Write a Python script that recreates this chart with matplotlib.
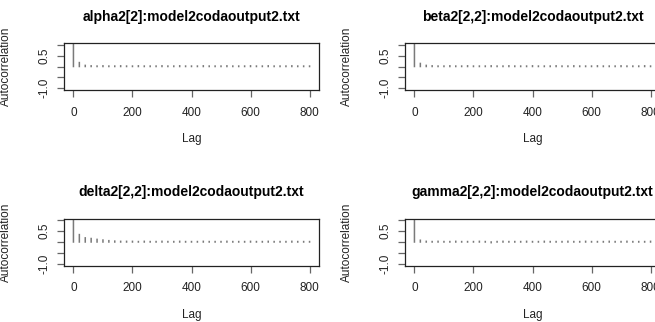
import matplotlib
matplotlib.use("Agg")
import matplotlib.pyplot as plt

plt.rcParams['font.family'] = ['Liberation Sans', 'DejaVu Sans']

# lags 0..800 by 20
lags = list(range(0, 801, 20))

titles = ["alpha2[2]:model2codaoutput2.txt",
          "beta2[2,2]:model2codaoutput2.txt",
          "delta2[2,2]:model2codaoutput2.txt",
          "gamma2[2,2]:model2codaoutput2.txt"]

alpha_acf = [1.0, 0.18, 0.05, 0.03, 0.02, 0.03, 0.02, 0.02, 0.03, 0.02, 0.02,
             0.03, 0.02, 0.02, 0.02, 0.03, 0.02, 0.02, 0.03, 0.02, 0.02,
             0.02, 0.03, 0.02, 0.02, 0.02, 0.03, 0.02, 0.02, 0.02, 0.03,
             0.02, 0.02, 0.03, 0.02, 0.02, 0.02, 0.03, 0.02, 0.02, 0.02]
beta_acf = [1.0, 0.14, 0.05, 0.03, 0.02, 0.02, 0.03, 0.02, 0.02, 0.03, 0.02,
            0.02, 0.02, 0.03, 0.02, 0.02, 0.03, 0.02, 0.02, 0.02, 0.03,
            0.02, 0.02, 0.02, 0.03, 0.02, 0.02, 0.03, 0.02, 0.02, 0.02,
            0.03, 0.02, 0.02, 0.02, 0.03, 0.02, 0.02, 0.02, 0.03, 0.02]
delta_acf = [1.0, 0.34, 0.19, 0.16, 0.12, 0.09, 0.06, 0.04, 0.03, 0.03, 0.03,
             0.02, 0.03, 0.02, 0.02, 0.03, 0.02, 0.02, 0.03, 0.02, 0.02,
             0.02, 0.03, 0.02, 0.02, 0.02, 0.03, 0.02, 0.02, 0.02, 0.03,
             0.02, 0.02, 0.03, 0.02, 0.02, 0.02, 0.03, 0.02, 0.02, 0.02]
gamma_acf = [1.0, 0.08, 0.03, 0.02, 0.03, 0.02, 0.02, 0.03, 0.02, 0.02, 0.02,
             0.03, 0.02, -0.03, 0.02, 0.03, 0.02, 0.02, 0.02, 0.03, 0.02,
             0.02, 0.03, 0.02, 0.02, 0.02, 0.03, 0.02, 0.02, 0.03, 0.02,
             0.02, 0.02, 0.03, 0.02, 0.02, 0.03, 0.02, 0.02, 0.02, 0.03]
series = [alpha_acf, beta_acf, delta_acf, gamma_acf]

xticks = [0, 200, 400, 600, 800]
yticks = [-1.0, -0.5, 0.0, 0.5, 1.0]
ytick_labels = ["-1.0", "", "", "0.5", ""]

W, H = 655, 322
fig = plt.figure(figsize=(W / 100, H / 100), dpi=100)

# panel boxes in pixels: left, top
boxes = [(64, 43), (405, 43), (64, 218.5), (405, 218.5)]
bw, bh = 255, 47

for (left, top), title, acf in zip(boxes, titles, series):
    ax = fig.add_axes([left / W, (H - top - bh) / H, bw / W, bh / H])
    lc = ax.vlines(lags, 0, acf, color="#7a7a7a", linewidth=1.1,
                   capstyle="projecting")
    lc.set_snap(False)
    ax.set_xlim(-32, 832)
    ax.set_ylim(-1.08, 1.08)
    ax.set_xticks(xticks)
    ax.set_xticklabels([str(v) for v in xticks])
    ax.set_yticks(yticks)
    ax.set_yticklabels(ytick_labels, rotation=90, va="center")
    ax.tick_params(axis="x", length=5, width=0.9, color="#666666",
                   labelsize=8.5, pad=7, labelcolor="#222222")
    ax.tick_params(axis="y", length=5, width=0.9, color="#666666",
                   labelsize=8.5, pad=5, labelcolor="#222222")
    for sp in ax.spines.values():
        sp.set_linewidth(0.9)
        sp.set_color("#222222")
    ax.set_title(title, fontsize=10, fontweight="bold", pad=16)
    ax.set_xlabel("Lag", fontsize=8.5, color="#222222")
    ax.xaxis.set_label_coords(0.5, -0.915)
    ax.set_ylabel("Autocorrelation", fontsize=8.5, color="#222222")
    ax.yaxis.set_label_coords(-0.205, 0.5)

fig.savefig("out.png", dpi=100)
